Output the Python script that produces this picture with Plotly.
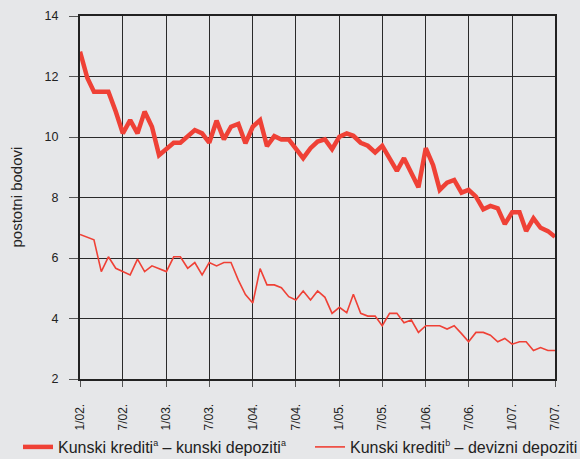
import pandas as pd
import plotly.graph_objects as go

# monthly, 1/2002 - 7/2007
months = pd.date_range("2002-01-01", "2007-07-01", freq="MS")

kunski_kunski = [12.82, 11.95, 11.5, 11.5, 11.5, 10.84, 10.12, 10.56, 10.12, 10.84,
                 10.34, 9.40, 9.63, 9.81, 9.81, 10.01, 10.23, 10.12, 9.81, 10.54,
                 9.92, 10.34, 10.43, 9.79, 10.34, 10.56, 9.70, 10.03, 9.92, 9.92,
                 9.63, 9.30, 9.63, 9.85, 9.92, 9.60, 10.01, 10.12, 10.04, 9.81,
                 9.71, 9.49, 9.71, 9.30, 8.88, 9.30, 8.78, 8.34, 9.63, 9.07,
                 8.25, 8.49, 8.58, 8.16, 8.25, 8.03, 7.61, 7.72, 7.64, 7.12,
                 7.51, 7.51, 6.89, 7.31, 7.00, 6.89, 6.70]

kunski_devizni = [6.78, 6.68, 6.60, 5.55, 6.04, 5.66, 5.55, 5.44, 5.96, 5.55,
                  5.74, 5.65, 5.55, 6.04, 6.04, 5.66, 5.85, 5.44, 5.85, 5.74,
                  5.85, 5.85, 5.27, 4.79, 4.51, 5.65, 5.11, 5.11, 5.02, 4.72,
                  4.61, 4.91, 4.61, 4.91, 4.70, 4.17, 4.37, 4.19, 4.80, 4.17,
                  4.08, 4.08, 3.76, 4.17, 4.17, 3.86, 3.95, 3.54, 3.76, 3.76,
                  3.76, 3.65, 3.76, 3.50, 3.23, 3.54, 3.54, 3.45, 3.23, 3.34,
                  3.15, 3.23, 3.23, 2.94, 3.04, 2.94, 2.94]

tick_dates = months[::6]
tick_labels = ["1/02.", "7/02.", "1/03.", "7/03.", "1/04.", "7/04.",
               "1/05.", "7/05.", "1/06.", "7/06.", "1/07.", "7/07."]

red = "#ef4136"
bg = "#e6e7e9"
ink = "#222222"
font = "Liberation Sans, Arial, sans-serif"


def sup(s):
    return '<sup><span style="font-size:9px">%s</span></sup>' % s


fig = go.Figure()
fig.add_trace(go.Scatter(x=months, y=kunski_kunski, mode="lines",
                         name="Kunski krediti" + sup("a") + " – kunski depoziti" + sup("a"),
                         line=dict(color=red, width=4.5), legend="legend"))
fig.add_trace(go.Scatter(x=months, y=kunski_devizni, mode="lines",
                         name="Kunski krediti" + sup("b") + " – devizni depoziti",
                         line=dict(color=red, width=1.6), legend="legend2"))

fig.update_xaxes(range=[months[0], months[-1]], tickvals=tick_dates, ticktext=tick_labels,
                 tickangle=-90, showgrid=True, gridcolor="#2a2a2a", gridwidth=1.3,
                 showline=True, linecolor=ink, linewidth=2, mirror=True,
                 ticks="outside", ticklen=6, tickcolor="#555555", ticklabelstandoff=12,
                 tickfont=dict(size=12, color=ink), zeroline=False, automargin=False)
fig.update_yaxes(range=[2, 14], dtick=2, showgrid=True, gridcolor="#2a2a2a", gridwidth=1.3,
                 showline=True, linecolor=ink, linewidth=2, mirror=True,
                 ticks="outside", ticklen=9, tickcolor="#555555", ticklabelstandoff=8,
                 tickfont=dict(size=12.5, color=ink), zeroline=False, automargin=False)

fig.add_annotation(text="postotni bodovi", textangle=-90, showarrow=False,
                   xref="paper", yref="paper", x=-0.1347, y=0.5,
                   xanchor="center", yanchor="middle",
                   font=dict(size=15, color=ink))

leg = dict(orientation="h", xref="container", yref="container", y=12 / 459,
           xanchor="left", yanchor="middle", bgcolor="rgba(0,0,0,0)",
           font=dict(size=16, color=ink))

fig.update_layout(width=580, height=459,
                  paper_bgcolor=bg, plot_bgcolor=bg,
                  font=dict(family=font, color=ink),
                  margin=dict(l=80, r=25, t=16, b=80, autoexpand=False),
                  showlegend=True,
                  legend=dict(leg, x=18 / 580),
                  legend2=dict(leg, x=310 / 580))

# page body has a default 8px margin; drop it so the figure fills the window
fig.write_html("out.html", config={"displayModeBar": False},
               post_script="document.body.style.margin = '0';")
